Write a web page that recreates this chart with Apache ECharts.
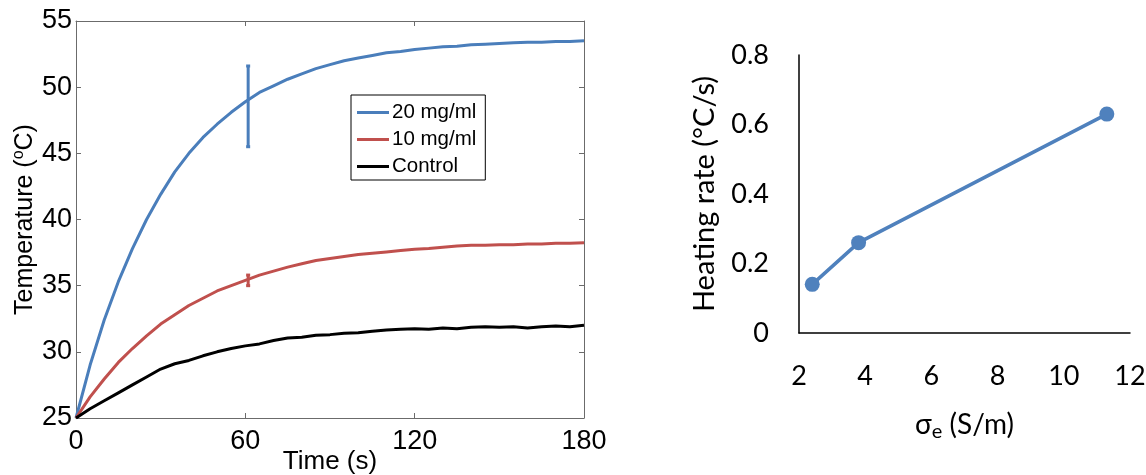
<!DOCTYPE html>
<html>
<head>
<meta charset="utf-8">
<script src="https://cdn.jsdelivr.net/npm/echarts@6/dist/echarts.min.js"></script>
<style>
  html, body { margin: 0; padding: 0; background: #fff; }
  #chart { width: 1146px; height: 475px; }
</style>
</head>
<body>
<div id="chart"></div>
<script>
// left panel: temperature vs time, every 5 s
const timeS = [0, 5, 10, 15, 20, 25, 30, 35, 40, 45, 50, 55, 60, 65, 70, 75, 80, 85, 90,
  95, 100, 105, 110, 115, 120, 125, 130, 135, 140, 145, 150, 155, 160, 165, 170, 175, 180]
const temp20 = [25.0, 29.0, 32.4, 35.3, 37.8, 40.0, 41.9, 43.6, 45.0, 46.2, 47.2, 48.1, 48.9,
  49.6, 50.1, 50.6, 51.0, 51.4, 51.7, 52.0, 52.2, 52.4, 52.6, 52.7, 52.85, 52.95, 53.05, 53.1,
  53.2, 53.25, 53.3, 53.35, 53.4, 53.4, 53.45, 53.45, 53.5]
const temp10 = [25.0, 26.6, 27.95, 29.2, 30.25, 31.2, 32.1, 32.8, 33.5, 34.05, 34.6, 35.0, 35.4,
  35.8, 36.1, 36.4, 36.65, 36.9, 37.05, 37.2, 37.35, 37.45, 37.55, 37.65, 37.75, 37.8, 37.9,
  38.0, 38.05, 38.05, 38.1, 38.1, 38.15, 38.15, 38.2, 38.2, 38.25]
const tempControl = [25.0, 25.7, 26.3, 26.9, 27.5, 28.1, 28.7, 29.1, 29.35, 29.7, 30.0, 30.25,
  30.45, 30.6, 30.85, 31.05, 31.1, 31.25, 31.3, 31.4, 31.45, 31.55, 31.65, 31.7, 31.75, 31.7,
  31.8, 31.75, 31.85, 31.9, 31.85, 31.9, 31.8, 31.9, 31.95, 31.9, 32.0]
// error bars at t = 61 s: [time, low, high]
const err20 = [61, 45.5, 51.6]
const err10 = [61, 35.0, 35.8]

// right panel: heating rate vs conductivity
const sigmaE = [2.4, 3.8, 11.3]
const heatingRate = [0.14, 0.26, 0.63]

const BLUE = '#4a7ebb'
const RED = '#c0504d'
const BLUE_XL = '#4f81bd'

const pairs = (xs, ys) => xs.map((x, i) => [x, ys[i]])

function errorBar(params, api) {
  const x = api.value(0)
  const lo = api.coord([x, api.value(1)])
  const hi = api.coord([x, api.value(2)])
  const style = { stroke: api.visual('color'), lineWidth: 3 }
  return {
    type: 'group',
    children: [
      { type: 'line', shape: { x1: lo[0], y1: lo[1], x2: hi[0], y2: hi[1] }, style },
      { type: 'line', shape: { x1: lo[0] - 2, y1: lo[1], x2: lo[0] + 2, y2: lo[1] }, style },
      { type: 'line', shape: { x1: hi[0] - 2, y1: hi[1], x2: hi[0] + 2, y2: hi[1] }, style }
    ]
  }
}

const leftFont = 'Liberation Sans'
const rightFont = 'Lato'
const boxLine = { show: true, onZero: false, lineStyle: { color: '#6b6b6b', width: 1 } }
const innerTick = { show: true, inside: true, length: 5, lineStyle: { color: '#6b6b6b' } }

const chart = echarts.init(document.getElementById('chart'))
chart.setOption({
  animation: false,
  textStyle: { fontFamily: leftFont },
  grid: [
    { left: 76, right: 562, top: 21, bottom: 57, outerBoundsMode: 'none' },
    { left: 799, right: 16, top: 55, bottom: 142, outerBoundsMode: 'none' }
  ],
  legend: {
    data: ['20 mg/ml', '10 mg/ml', 'Control'],
    orient: 'vertical',
    left: 351,
    top: 95,
    padding: [7, 9, 3, 6],
    itemGap: 6,
    itemWidth: 32,
    itemHeight: 3,
    icon: 'rect',
    borderColor: '#000',
    borderWidth: 1,
    borderRadius: 0,
    backgroundColor: '#fff',
    textStyle: { fontFamily: leftFont, fontSize: 20.5, lineHeight: 20, color: '#000', padding: [0, 0, 0, -2] }
  },
  xAxis: [
    {
      gridIndex: 0, type: 'value', min: 0, max: 180, interval: 60,
      name: 'Time (s)', nameLocation: 'middle', nameGap: 31, nameMoveOverlap: false,
      nameTextStyle: { fontFamily: leftFont, fontSize: 26, color: '#000' },
      axisLine: boxLine, axisTick: innerTick, splitLine: { show: false },
      axisLabel: { fontFamily: leftFont, fontSize: 27, color: '#000', margin: 10 }
    },
    {
      gridIndex: 0, type: 'value', min: 0, max: 180, interval: 60, position: 'top',
      axisLine: boxLine, axisTick: innerTick, splitLine: { show: false },
      axisLabel: { show: false }
    },
    {
      gridIndex: 1, type: 'value', min: 2, max: 12, interval: 2,
      name: '{s|σ}{sub|e}{s| (S/m)}', nameLocation: 'middle', nameGap: 75,
      nameTextStyle: {
        rich: {
          s: { fontFamily: rightFont, fontSize: 28, color: '#000' },
          sub: { fontFamily: rightFont, fontSize: 20, color: '#000', padding: [14, 0, 0, 0] }
        }
      },
      axisLine: { lineStyle: { color: '#000', width: 1.5 } },
      axisTick: { show: false }, splitLine: { show: false },
      axisLabel: { fontFamily: rightFont, fontSize: 27, color: '#000', margin: 30 }
    }
  ],
  yAxis: [
    {
      gridIndex: 0, type: 'value', min: 25, max: 55, interval: 5,
      name: '{a|Temperature (}{sup|o}{a|C)}', nameLocation: 'middle', nameGap: 37,
      nameMoveOverlap: false,
      nameTextStyle: {
        rich: {
          a: { fontFamily: leftFont, fontSize: 25, color: '#000' },
          sup: { fontFamily: leftFont, fontSize: 16, color: '#000', padding: [0, 0, 12, 0] }
        }
      },
      axisLine: boxLine, axisTick: innerTick, splitLine: { show: false },
      axisLabel: { fontFamily: leftFont, fontSize: 27, color: '#000', margin: 4 }
    },
    {
      gridIndex: 0, type: 'value', min: 25, max: 55, interval: 5, position: 'right',
      axisLine: boxLine, axisTick: innerTick, splitLine: { show: false },
      axisLabel: { show: false }
    },
    {
      gridIndex: 1, type: 'value', min: 0, max: 0.8, interval: 0.2,
      name: 'Heating rate (°C/s)', nameLocation: 'middle', nameGap: 80,
      nameTextStyle: { fontFamily: rightFont, fontSize: 29, color: '#000' },
      axisLine: { show: true, lineStyle: { color: '#000', width: 1.5 } },
      axisTick: { show: false }, splitLine: { show: false },
      axisLabel: { fontFamily: rightFont, fontSize: 27, color: '#000', margin: 30 }
    }
  ],
  series: [
    {
      name: '20 mg/ml', type: 'line', xAxisIndex: 0, yAxisIndex: 0,
      data: pairs(timeS, temp20), symbol: 'none', color: BLUE,
      lineStyle: { color: BLUE, width: 3 }
    },
    {
      name: '10 mg/ml', type: 'line', xAxisIndex: 0, yAxisIndex: 0,
      data: pairs(timeS, temp10), symbol: 'none', color: RED,
      lineStyle: { color: RED, width: 3 }
    },
    {
      name: 'Control', type: 'line', xAxisIndex: 0, yAxisIndex: 0,
      data: pairs(timeS, tempControl), symbol: 'none', color: '#000',
      lineStyle: { color: '#000', width: 3 }
    },
    {
      name: 'err20', type: 'custom', xAxisIndex: 0, yAxisIndex: 0,
      renderItem: errorBar, data: [err20], color: BLUE
    },
    {
      name: 'err10', type: 'custom', xAxisIndex: 0, yAxisIndex: 0,
      renderItem: errorBar, data: [err10], color: RED
    },
    {
      name: 'Heating rate', type: 'line', xAxisIndex: 2, yAxisIndex: 2,
      data: pairs(sigmaE, heatingRate), color: BLUE_XL,
      symbol: 'circle', symbolSize: 15,
      itemStyle: { color: BLUE_XL },
      lineStyle: { color: BLUE_XL, width: 3.5 }
    }
  ]
})
</script>
</body>
</html>
